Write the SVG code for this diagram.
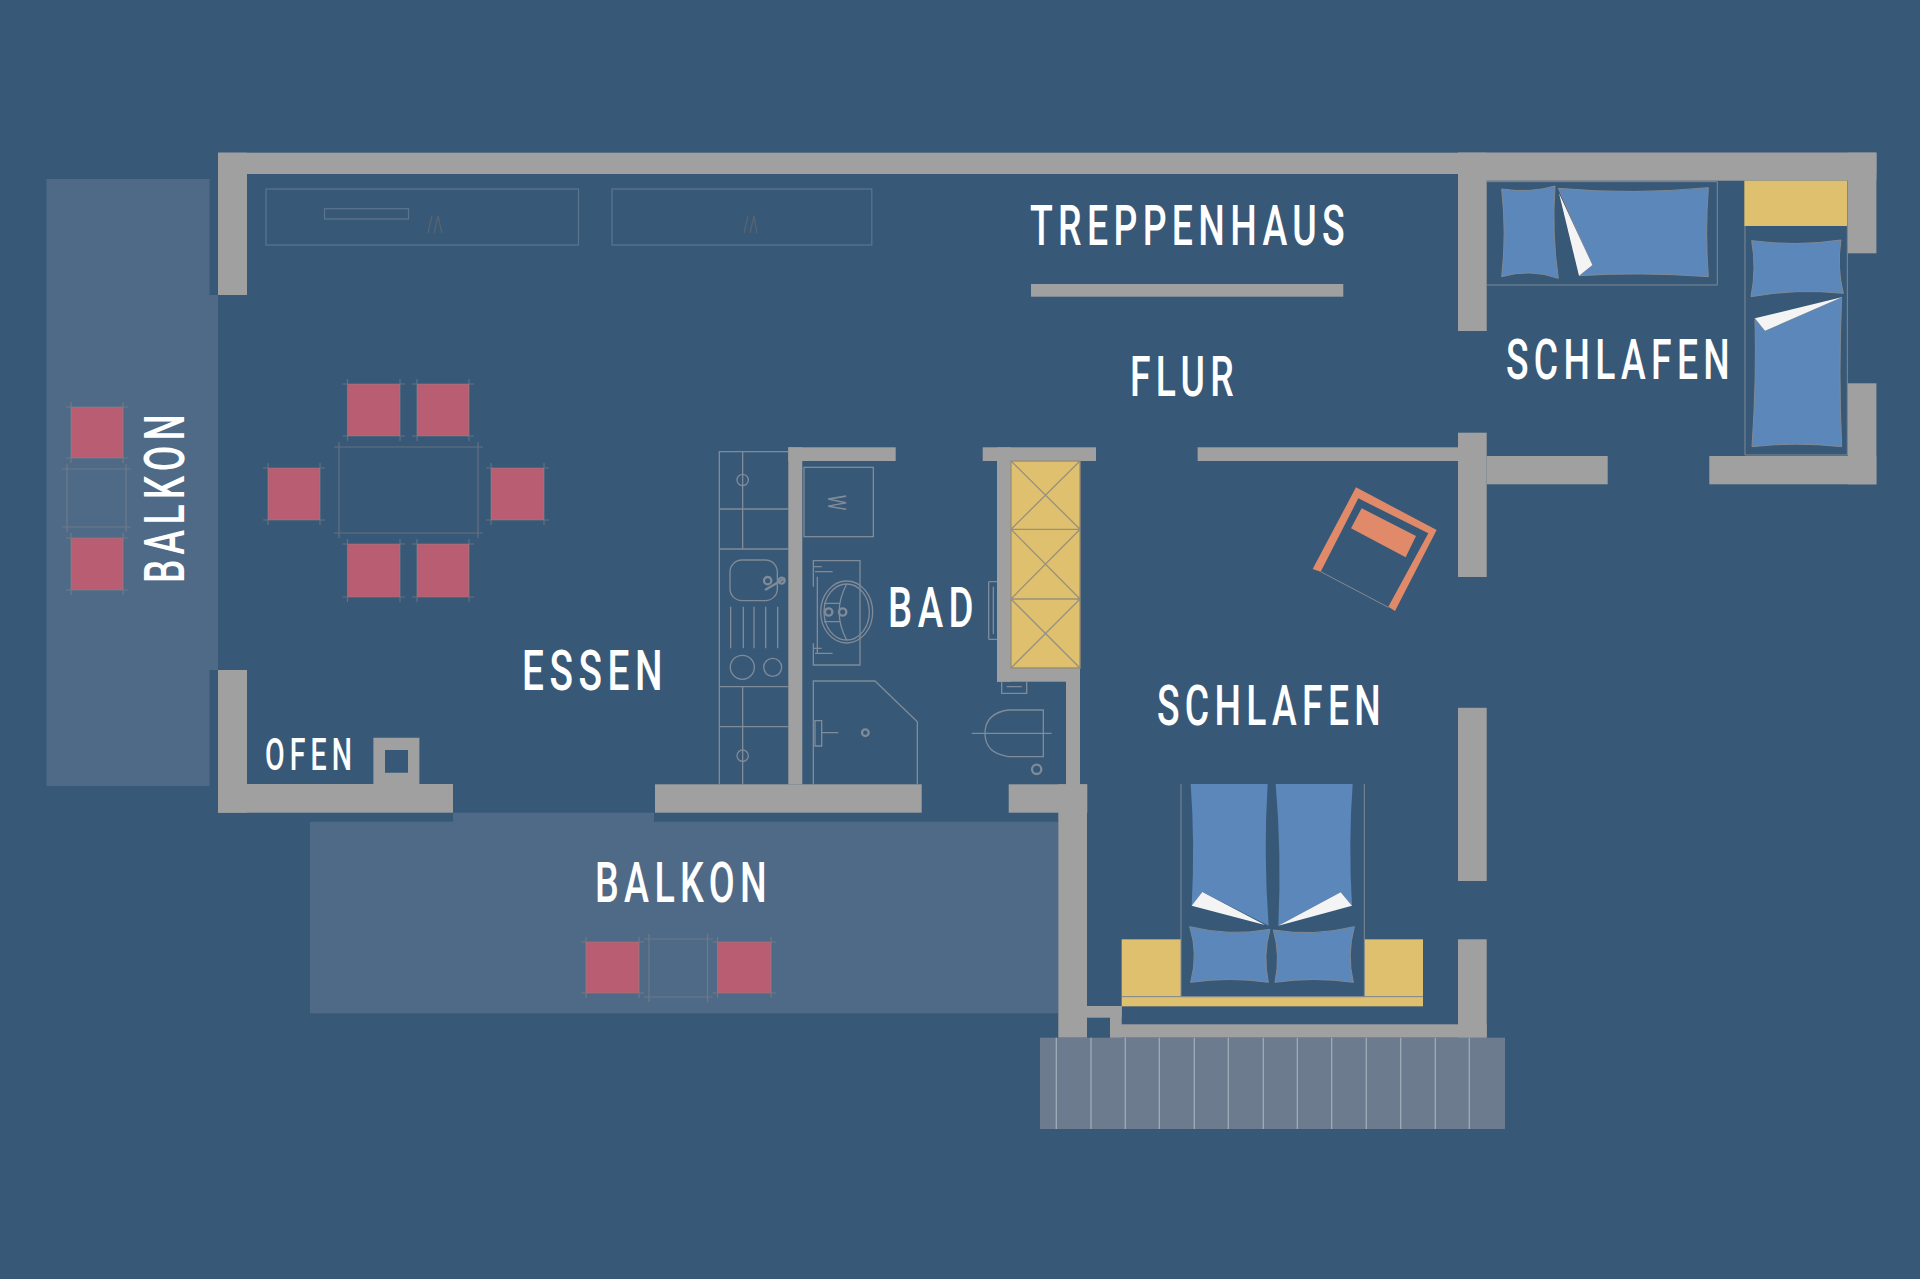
<svg xmlns="http://www.w3.org/2000/svg" width="1920" height="1279" viewBox="0 0 1920 1279">
<style>
.balcony{fill:#4f6a87}
.wall{fill:#a0a0a0}
.chair{fill:#b85d72}
.guide{fill:none;stroke:#8b8a8a;stroke-opacity:.5;stroke-width:1.2}
.fix{fill:none;stroke:#7f8b98;stroke-width:4}
.thick{stroke-width:7}
.cab{fill:none;stroke:#7589a0;stroke-opacity:.6;stroke-width:1.2}
.yellow{fill:#dfc06e}
.blue{fill:#5b87ba;stroke:#7f8a94;stroke-width:3}
.white{fill:#f4f4f4}
.frame{fill:none;stroke:#7e8a96;stroke-width:1.2}
.label{font-family:"Roboto","Liberation Sans",sans-serif;font-size:56px;font-weight:500;fill:#fff;letter-spacing:8px}
</style>
<rect width="1920" height="1279" fill="#385877"/>
<g id="balconies">
<path class="balcony" d="M46.5 179H209.500V295H218V670H209.500V786H46.500Z"/>
<path class="balcony" d="M310 821.700H453V812.700H654V821.700H1058.300V1013.300H310Z"/>
</g>
<g id="walls">
<rect class="wall" x="218" y="152.700" width="1658.300" height="21.300"/>
<rect class="wall" x="1458" y="152.700" width="418.300" height="28"/>
<rect class="wall" x="218" y="152.700" width="29" height="142.300"/>
<rect class="wall" x="218" y="670" width="29" height="142.700"/>
<rect class="wall" x="218" y="784" width="235" height="28.700"/>
<path class="wall" fill-rule="evenodd" d="M373.400 737.700H419.400V784H373.400ZM385 750V772.700H408V750Z"/>
<rect class="wall" x="655" y="784.300" width="266.700" height="28.400"/>
<rect class="wall" x="788.300" y="447.300" width="14" height="337"/>
<rect class="wall" x="788.300" y="447.300" width="107.400" height="13.700"/>
<rect class="wall" x="982.700" y="447.300" width="113.300" height="13.700"/>
<rect class="wall" x="997" y="447.300" width="14" height="234.400"/>
<rect class="wall" x="997" y="668" width="83" height="13.700"/>
<rect class="wall" x="1066" y="668" width="14" height="120"/>
<rect class="wall" x="1008.700" y="784.300" width="78.600" height="28.400"/>
<rect class="wall" x="1058.300" y="784.300" width="28.700" height="253.400"/>
<rect class="wall" x="1087" y="1006" width="34.700" height="11.700"/>
<rect class="wall" x="1110" y="1006" width="11.700" height="31.700"/>
<rect class="wall" x="1110" y="1024.300" width="376.700" height="13.400"/>
<rect class="wall" x="1458" y="939.300" width="28.700" height="98.400"/>
<rect class="wall" x="1458" y="707.800" width="28.700" height="173.200"/>
<rect class="wall" x="1458" y="152.700" width="28.700" height="178.300"/>
<rect class="wall" x="1458" y="432.700" width="28.700" height="144.300"/>
<rect class="wall" x="1197.600" y="447.300" width="260.400" height="13.700"/>
<rect class="wall" x="1486.700" y="456" width="121" height="28.300"/>
<rect class="wall" x="1709.300" y="456" width="167" height="28.300"/>
<rect class="wall" x="1847.700" y="383.300" width="28.700" height="101"/>
<rect class="wall" x="1847.700" y="152.700" width="28.700" height="100.600"/>
<rect class="wall" x="1031" y="284" width="312.300" height="12.700"/>
</g>
<g id="cabinets">
<rect class="cab" x="266" y="189" width="312.500" height="56"/>
<rect class="cab" x="324.500" y="208.700" width="84" height="10.300"/>
<rect class="cab" x="612" y="189" width="259.800" height="56"/>
<path d="M428 233L432 216M434 233L438 216L442 233M744 233L748 216M750 233L754 216L757 233" fill="none" stroke="#566472" stroke-width="1.300"/>
</g>
<g id="kitchen" transform="translate(700 430) scale(.33333)">
<path class="fix" d="M58 1063V65H265M58 237H265M58 357H265M58 770H265M58 890H265M128 65V357M128 770V1063"/>
<circle class="fix" cx="128" cy="150" r="17"/><circle class="fix" cx="128" cy="977" r="17"/>
<rect class="fix" x="90" y="390" width="142" height="122" rx="36"/>
<circle class="fix thick" cx="203" cy="452" r="11"/><circle class="fix thick" cx="245" cy="452" r="9"/>
<path class="fix thick" d="M195 480L255 445"/>
<path class="fix" d="M92 530V655M130 530V655M162 530V655M197 530V655M233 530V655"/>
<circle class="fix" cx="127" cy="712" r="36"/><circle class="fix" cx="218" cy="712" r="27"/>
</g>
<g id="bathroom" transform="translate(700 430) scale(.33333)">
<rect class="fix" x="312" y="112" width="208" height="208"/>
<text x="0" y="0" transform="translate(385 218) rotate(90) scale(.7 1)" text-anchor="middle" font-family="Roboto,sans-serif" font-size="76" fill="#7f8b98">W</text>
<path class="fix" d="M340 470V392H480V705H340V640M352 440V672M345 425H398M345 670H398M340 410H365M340 655H365"/>
<ellipse class="fix" cx="440" cy="546" rx="78" ry="93"/>
<ellipse class="fix" cx="440" cy="546" rx="68" ry="84"/>
<path class="fix" d="M440 462Q395 546 440 630M372 520H420M372 575H420"/>
<circle class="fix thick" cx="386" cy="546" r="11"/><circle class="fix thick" cx="428" cy="546" r="11"/>
<path class="fix" d="M340 1063V753H525L652 875V1063"/>
<path class="fix" d="M345 872H365V948H345ZM365 908H415"/>
<circle class="fix thick" cx="496" cy="908" r="10"/>
<path class="fix" d="M866 455H891M866 628H891M866 455V628M880 470V612"/>
<path class="fix" d="M905 755V790H980V755M920 770H965"/>
<path class="fix" d="M1030 840H925Q855 850 855 910Q855 970 925 980H1030ZM815 910H1055"/>
<circle class="fix thick" cx="1010" cy="1018" r="14"/>
</g>
<g id="wardrobe">
<rect class="yellow" x="1011" y="461" width="69" height="207"/>
<path d="M1011 461H1080V668H1011ZM1011 529.300H1080M1011 599H1080M1011 461L1080 529.300M1080 461L1011 529.300M1011 529.300L1080 599M1080 529.300L1011 599M1011 599L1080 668M1080 599L1011 668" fill="none" stroke="#97907d" stroke-width="1.300"/>
</g>
<g id="dining">
<rect class="chair" x="347.500" y="384" width="52.500" height="52"/>
<rect class="chair" x="417" y="384" width="52" height="52"/>
<rect class="chair" x="347.500" y="544" width="52.500" height="53"/>
<rect class="chair" x="417" y="544" width="52" height="53"/>
<rect class="chair" x="268" y="468" width="52" height="52"/>
<rect class="chair" x="491" y="468" width="53" height="52"/>
<path class="guide" d="M342.500 384H405M342.500 436H405M347.500 379V441M400 379V441M412 384H474M412 436H474M417 379V441M469 379V441M342.500 544H405M342.500 597H405M347.500 539V602M400 539V602M412 544H474M412 597H474M417 539V602M469 539V602M263 468H325M263 520H325M268 463V525M320 463V525M486 468H549M486 520H549M491 463V525M544 463V525M334 447H483M334 533H483M339 442V538M478 442V538"/>
</g>
<g id="balcony-furniture-west">
<rect class="chair" x="71" y="407" width="52" height="51"/>
<rect class="chair" x="71" y="538" width="52" height="52"/>
<path class="guide" d="M66 407H128M66 458H128M71 402V463M123 402V463M66 538H128M66 590H128M71 533V595M123 533V595M62 469H131M62 527H131M67 464V532M126 464V532"/>
</g>
<g id="balcony-furniture-south">
<rect class="chair" x="586" y="942" width="53" height="51"/>
<rect class="chair" x="717.500" y="942" width="53.500" height="51"/>
<path class="guide" d="M581 942H644M581 993H644M586 937V998M639 937V998M712.500 942H776M712.500 993H776M717.500 937V998M771 937V998M644 939H712.500M644 997H712.500M649 934V1002M707.500 934V1002"/>
</g>
<g id="armchair" transform="translate(1280 470) scale(.33333)">
<path fill="#e08a6a" d="M98 297L228 52L470 180L345 423L325 410L445 190L235 85L122 305ZM245 115L408 198L377 262L213 175Z"/>
<path d="M122 305L325 412" fill="none" stroke="#7e8a96" stroke-width="3"/>
</g>
<g id="bed-double" transform="translate(1030 760) scale(.33333)">
<rect class="yellow" x="275" y="538" width="178" height="172"/>
<rect class="yellow" x="1003" y="538" width="176" height="172"/>
<rect class="yellow" x="275" y="710" width="904" height="29"/>
<path class="frame" style="stroke-width:3" d="M453 72V710H1003V72M275 710H1179"/>
<path class="blue" style="stroke:none" d="M482 72H713Q700 280 716 497L517 396L485 437Q495 250 482 72Z"/>
<path class="blue" style="stroke:none" d="M737 72H968Q955 250 966 437L932 397L745 497Q755 280 737 72Z"/>
<path class="white" d="M485 437L517 396L705 495Z"/>
<path class="white" d="M966 437L932 397L745 497Z"/>
<path class="blue" d="M479 500Q600 530 720 508Q698 585 715 667Q600 650 482 667Q505 580 479 500Z"/>
<path class="blue" d="M973 500Q850 530 730 510Q752 585 735 667Q850 650 970 667Q950 585 973 500Z"/>
</g>
<g id="beds-north" transform="translate(1440 140) scale(.33333)">
<rect class="yellow" x="913" y="122" width="309" height="136"/>
<path class="frame" style="stroke-width:3" d="M140 125H832V435H140M915 258V945H1222V258"/>
<path class="blue" d="M185 147Q270 160 345 138Q335 280 355 415Q270 385 185 410Q200 280 185 147Z"/>
<path class="blue" d="M355 145Q580 165 805 143Q795 280 805 410Q600 395 417 407L457 375Z"/>
<path class="white" d="M357 160L457 375L417 407Z"/>
<path class="blue" d="M935 302Q1070 320 1203 300Q1190 380 1210 460Q1070 445 933 470Q950 385 935 302Z"/>
<path class="blue" d="M1205 472L975 572L945 535Q950 720 936 920Q1070 905 1205 920Q1195 700 1205 472Z"/>
<path class="white" d="M1205 472L945 535L975 572Z"/>
</g>
<g id="terrace">
<rect x="1040" y="1037.700" width="465" height="91.300" fill="#6c7c8e"/>
<path fill="none" stroke="#9fadba" stroke-width="1.300" d="M1056.300 1037.700V1129M1091 1037.700V1129M1125.300 1037.700V1129M1159.300 1037.700V1129M1194.300 1037.700V1129M1228.300 1037.700V1129M1263.300 1037.700V1129M1297.300 1037.700V1129M1331.700 1037.700V1129M1366.300 1037.700V1129M1400.700 1037.700V1129M1435.300 1037.700V1129M1469.300 1037.700V1129"/>
</g>
<g id="labels">
<text class="label" x="1030" y="245" textLength="320" lengthAdjust="spacingAndGlyphs">TREPPENHAUS</text>
<text class="label" x="1130" y="395.700" textLength="109" lengthAdjust="spacingAndGlyphs">FLUR</text>
<text class="label" x="1506" y="379.300" textLength="229" lengthAdjust="spacingAndGlyphs">SCHLAFEN</text>
<text class="label" x="888" y="626.700" textLength="91" lengthAdjust="spacingAndGlyphs">BAD</text>
<text class="label" x="522" y="690" textLength="146" lengthAdjust="spacingAndGlyphs">ESSEN</text>
<text class="label" x="1157" y="725" textLength="229" lengthAdjust="spacingAndGlyphs">SCHLAFEN</text>
<text class="label" x="595" y="901.700" textLength="177" lengthAdjust="spacingAndGlyphs">BALKON</text>
<text class="label" style="font-size:45px" x="265" y="770" textLength="92" lengthAdjust="spacingAndGlyphs">OFEN</text>
<text class="label" transform="translate(184.300 583) rotate(-90)" textLength="174" lengthAdjust="spacingAndGlyphs">BALKON</text>
</g>
</svg>
